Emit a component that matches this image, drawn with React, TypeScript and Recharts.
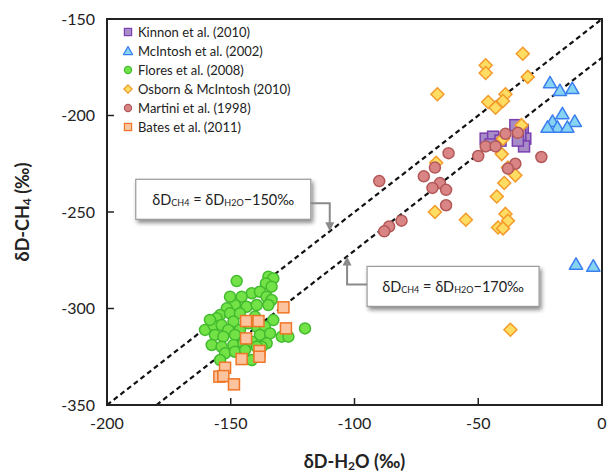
import React from 'react';
import {
  ScatterChart,
  Scatter,
  XAxis,
  YAxis,
  ReferenceLine,
  ReferenceArea,
  ReferenceDot,
  Legend,
} from 'recharts';

type P = [number, number];

const xTicks = [-200, -150, -100, -50, 0];
const yTicks = [-350, -300, -250, -200, -150];
const lineOffsets = [-150, -170];

const kinnon: P[] = [
  [-47, -212], [-44, -211], [-41, -213], [-35, -205], [-32, -207.5],
  [-31, -212], [-31.5, -216], [-33, -210], [-45, -215], [-34, -213],
];

const mcintosh: P[] = [
  [-21, -183], [-17, -187], [-12, -186], [-16, -199], [-20, -203], [-11, -203],
  [-18, -206], [-22, -206], [-14, -206], [-10.5, -277], [-3.5, -278],
];

const flores: P[] = [
  [-147.6, -285.8], [-134.8, -283.5], [-132.8, -284.4], [-135.8, -287], [-133.5, -288.7],
  [-141.5, -292.1], [-138.2, -291.3], [-145.6, -293.9], [-135.5, -293.9], [-133.5, -295.6],
  [-148.3, -298.2], [-151.6, -299.9], [-143.6, -299.1], [-139.5, -298.2], [-134.8, -298.2],
  [-154.3, -303.4], [-150.3, -302.5], [-146.3, -302.5], [-155.7, -305.1], [-132.8, -306],
  [-160.4, -311.1], [-157, -308.6], [-153.7, -308.6], [-148.9, -306.8], [-139.5, -309.4],
  [-136.2, -309.4], [-151, -311.1], [-146.3, -311.1], [-156.4, -313.7], [-153, -314.6],
  [-148.3, -313.7], [-138.2, -313.7], [-134.1, -312.9], [-129.4, -314.6], [-126.7, -314.6],
  [-120, -310.3], [-157.7, -318.9], [-153.7, -319.8], [-148.9, -318.9], [-144.9, -318],
  [-141.5, -317.2], [-152.3, -323.2], [-148.3, -322.4], [-141.5, -326.7], [-144.2, -321.5],
  [-135.5, -318], [-137.5, -319.8], [-154.3, -326.7], [-140.2, -304.2], [-142.9, -307.7],
  [-139.5, -319.8], [-150.3, -293.9], [-158.4, -305.9],
];

const osborn: P[] = [
  [-32, -168], [-47, -174], [-47, -178], [-30, -180], [-66.5, -189], [-39, -189],
  [-46, -193], [-40, -192.5], [-43, -196], [-32.5, -205], [-40, -212], [-40.5, -220],
  [-67, -224.5], [-38, -227], [-35, -231], [-39.5, -235], [-42.5, -242], [-67.5, -250],
  [-55, -254], [-39, -251], [-38, -254.5], [-42, -258], [-40, -258.5], [-37, -311],
];

const martini: P[] = [
  [-90, -234], [-62, -219.5], [-72, -231.5], [-67.5, -227], [-65.5, -235], [-68.5, -237.5],
  [-63, -238.5], [-63, -246.5], [-81, -254.5], [-86, -257.5], [-88, -260], [-50, -221],
  [-39, -209.5], [-34, -209], [-47, -216], [-43, -216], [-24.5, -221.5], [-35, -225],
  [-38, -227.5],
];

const bates: P[] = [
  [-143.8, -306.5], [-138.8, -306.5], [-143.8, -315.5], [-128.7, -299.4], [-127.7, -310.3],
  [-138.4, -322], [-138.4, -325], [-145.6, -326.2], [-152.3, -330.7], [-154.6, -335.3],
  [-153, -335], [-148.7, -339.3],
];

const seriesNames = [
  'Kinnon et al. (2010)',
  'McIntosh et al. (2002)',
  'Flores et al. (2008)',
  'Osborn & McIntosh (2010)',
  'Martini et al. (1998)',
  'Bates et al. (2011)',
];

type Kind = 'square' | 'triangle' | 'circle' | 'diamond';
const styles: Record<string, { kind: Kind; fill: string; stroke: string; size: number }> = {
  'Kinnon et al. (2010)': { kind: 'square', fill: '#a88cc8', stroke: '#7a3fb0', size: 5.5 },
  'McIntosh et al. (2002)': { kind: 'triangle', fill: '#86d4f2', stroke: '#3a7ef0', size: 6 },
  'Flores et al. (2008)': { kind: 'circle', fill: '#72e246', stroke: '#43bb2e', size: 5.5 },
  'Osborn & McIntosh (2010)': { kind: 'diamond', fill: '#ffdc62', stroke: '#f39a2c', size: 6.5 },
  'Martini et al. (1998)': { kind: 'circle', fill: '#d98585', stroke: '#b35858', size: 5.5 },
  'Bates et al. (2011)': { kind: 'square', fill: '#fbc39e', stroke: '#ee7626', size: 5.5 },
};

const seriesData: P[][] = [kinnon, mcintosh, flores, osborn, martini, bates];
const toPts = (a: P[]) => a.map(([x, y]) => ({ x, y }));

const FONT = 'Lato, "Open Sans", sans-serif';

function Marker({ kind, cx, cy, s, fill, stroke, sw }: any) {
  if (cx == null || cy == null) return null;
  const common = { fill, stroke, strokeWidth: sw };
  switch (kind) {
    case 'square':
      return <rect x={cx - s} y={cy - s} width={2 * s} height={2 * s} {...common} />;
    case 'triangle':
      return (
        <path
          d={`M${cx},${cy - s * 1.05} L${cx + s * 1.1},${cy + s * 0.85} L${cx - s * 1.1},${cy + s * 0.85} Z`}
          {...common}
          strokeLinejoin="round"
        />
      );
    case 'diamond':
      return <path d={`M${cx},${cy - s} L${cx + s},${cy} L${cx},${cy + s} L${cx - s},${cy} Z`} {...common} />;
    default:
      return <circle cx={cx} cy={cy} r={s} {...common} />;
  }
}

function renderLegend(props: any) {
  const payload = [...(props.payload || [])].sort(
    (a: any, b: any) => seriesNames.indexOf(a.value) - seriesNames.indexOf(b.value)
  );
  return (
    <div style={{ fontFamily: FONT, fontSize: 13, color: '#222' }}>
      {payload.map((entry: any) => {
        const st = styles[entry.value];
        if (!st) return null;
        return (
          <div key={entry.value} style={{ display: 'flex', alignItems: 'center', height: 19 }}>
            <svg width={12} height={12} style={{ marginRight: 4 }}>
              <Marker kind={st.kind} cx={6} cy={6} s={st.kind === 'diamond' ? 4.2 : st.kind === 'triangle' ? 4.2 : 3.6} fill={st.fill} stroke={st.stroke} sw={1.2} />
            </svg>
            <span style={{ whiteSpace: 'nowrap' }}>{entry.value}</span>
          </div>
        );
      })}
    </div>
  );
}

function EqText({ x, y, value }: { x: number; y: number; value: number }) {
  return (
    <text x={x} y={y} textAnchor="middle" dominantBaseline="central" fontFamily={FONT} fontSize={14.5} fill="#222">
      δD
      <tspan fontSize={9} dy={3}>CH4</tspan>
      <tspan dy={-3}> = δD</tspan>
      <tspan fontSize={9} dy={3}>H2O</tspan>
      <tspan dy={-3}>−{Math.abs(value)}‰</tspan>
    </text>
  );
}

function Annotation1(props: any) {
  const { cx, cy } = props;
  if (cx == null) return null;
  const bx = cx - 194, by = cy - 52, bw = 175, bh = 40;
  const ly = by + bh / 2 + 4;
  return (
    <g>
      <defs>
        <filter id="shadow1" x="-10%" y="-30%" width="130%" height="170%">
          <feDropShadow dx="2" dy="3" stdDeviation="2" floodColor="#000" floodOpacity="0.45" />
        </filter>
      </defs>
      <rect x={bx} y={by} width={bw} height={bh} fill="#fff" stroke="#9a9a9a" strokeWidth={1.2} filter="url(#shadow1)" />
      <EqText x={bx + bw / 2} y={by + bh / 2} value={lineOffsets[0]} />
      <polyline points={`${bx + bw},${ly} ${cx},${ly} ${cx},${cy - 8}`} fill="none" stroke="#8a8a8a" strokeWidth={2} />
      <path d={`M${cx - 4.5},${cy - 9} L${cx + 4.5},${cy - 9} L${cx},${cy} Z`} fill="#8a8a8a" />
    </g>
  );
}

function Annotation2(props: any) {
  const { cx, cy } = props;
  if (cx == null) return null;
  const bx = cx + 20, by = cy + 10, bw = 172, bh = 40;
  const ly = by + bh / 2 - 2;
  return (
    <g>
      <defs>
        <filter id="shadow2" x="-10%" y="-30%" width="130%" height="170%">
          <feDropShadow dx="2" dy="3" stdDeviation="2" floodColor="#000" floodOpacity="0.45" />
        </filter>
      </defs>
      <rect x={bx} y={by} width={bw} height={bh} fill="#fff" stroke="#9a9a9a" strokeWidth={1.2} filter="url(#shadow2)" />
      <EqText x={bx + bw / 2} y={by + bh / 2} value={lineOffsets[1]} />
      <polyline points={`${bx},${ly} ${cx},${ly} ${cx},${cy + 8}`} fill="none" stroke="#8a8a8a" strokeWidth={2} />
      <path d={`M${cx - 4.5},${cy + 9} L${cx + 4.5},${cy + 9} L${cx},${cy} Z`} fill="#8a8a8a" />
    </g>
  );
}

function YLabel(props: any) {
  const vb = props.viewBox || { x: 57, y: 19, width: 50, height: 386 };
  const cx = vb.x - 35;
  const cy = vb.y + vb.height / 2;
  return (
    <text
      x={cx}
      y={cy}
      transform={`rotate(-90 ${cx} ${cy})`}
      textAnchor="middle"
      dominantBaseline="central"
      fontFamily={FONT}
      fontWeight={700}
      fontSize={18}
      fill="#222"
    >
      δD-CH<tspan fontSize={12} dy={4}>4</tspan>
      <tspan dy={-4}> (‰)</tspan>
    </text>
  );
}

function XLabel(props: any) {
  const vb = props.viewBox || { x: 107, y: 405, width: 495, height: 60 };
  const cx = vb.x + vb.width / 2;
  const cy = vb.y + 56;
  return (
    <text x={cx} y={cy} textAnchor="middle" dominantBaseline="central" fontFamily={FONT} fontWeight={700} fontSize={18} fill="#222">
      δD-H<tspan fontSize={12} dy={4}>2</tspan>
      <tspan dy={-4}>O (‰)</tspan>
    </text>
  );
}

const X_MIN = xTicks[0];
const X_MAX = xTicks[xTicks.length - 1];
const Y_MIN = yTicks[0];
const Y_MAX = yTicks[yTicks.length - 1];

export default function App() {
  return (
    <div style={{ position: 'absolute', left: 0, top: 0, width: 608, height: 474, background: '#fff' }}>
      <ScatterChart width={608} height={474} margin={{ top: 19, right: 6, bottom: 9, left: 57 }}>
        <XAxis
          type="number"
          dataKey="x"
          domain={[X_MIN, X_MAX]}
          ticks={xTicks}
          height={60}
          tickSize={-7}
          tickMargin={20}
          axisLine={{ stroke: '#222', strokeWidth: 2 }}
          tickLine={{ stroke: '#222', strokeWidth: 1.5 }}
          tick={{ fill: '#222', fontSize: 16, fontFamily: FONT }}
          label={<XLabel />}
        />
        <YAxis
          type="number"
          dataKey="y"
          domain={[Y_MIN, Y_MAX]}
          ticks={yTicks}
          width={50}
          tickSize={-7}
          tickMargin={19}
          axisLine={{ stroke: '#222', strokeWidth: 2 }}
          tickLine={{ stroke: '#222', strokeWidth: 1.5 }}
          tick={{ fill: '#222', fontSize: 16, fontFamily: FONT }}
          label={<YLabel />}
        />
        <ReferenceArea x1={X_MIN} x2={X_MAX} y1={Y_MIN} y2={Y_MAX} fill="none" stroke="#222" strokeWidth={2} />
        {lineOffsets.map((off) => (
          <ReferenceLine
            key={off}
            segment={[
              { x: Math.max(X_MIN, Y_MIN - off), y: Math.max(X_MIN, Y_MIN - off) + off },
              { x: X_MAX, y: X_MAX + off },
            ]}
            stroke="#111"
            strokeWidth={2.2}
            strokeDasharray="5 3.5"
          />
        ))}
        {seriesNames.map((name, i) => {
          const st = styles[name];
          return (
            <Scatter
              key={name}
              name={name}
              data={toPts(seriesData[i])}
              fill={st.fill}
              stroke={st.stroke}
              isAnimationActive={false}
              shape={(p: any) => (
                <Marker kind={st.kind} cx={p.cx} cy={p.cy} s={st.size} fill={st.fill} stroke={st.stroke} sw={1.5} />
              )}
            />
          );
        })}
        <ReferenceDot x={-110} y={-110 + lineOffsets[0]} r={0} shape={(p: any) => <Annotation1 {...p} />} />
        <ReferenceDot x={-103} y={-103 + lineOffsets[1]} r={0} shape={(p: any) => <Annotation2 {...p} />} />
        <Legend
          layout="horizontal"
          align="center"
          verticalAlign="middle"
          wrapperStyle={{ left: 122, top: 22.5, width: 'auto', height: 'auto' }}
          content={renderLegend}
        />
      </ScatterChart>
    </div>
  );
}
